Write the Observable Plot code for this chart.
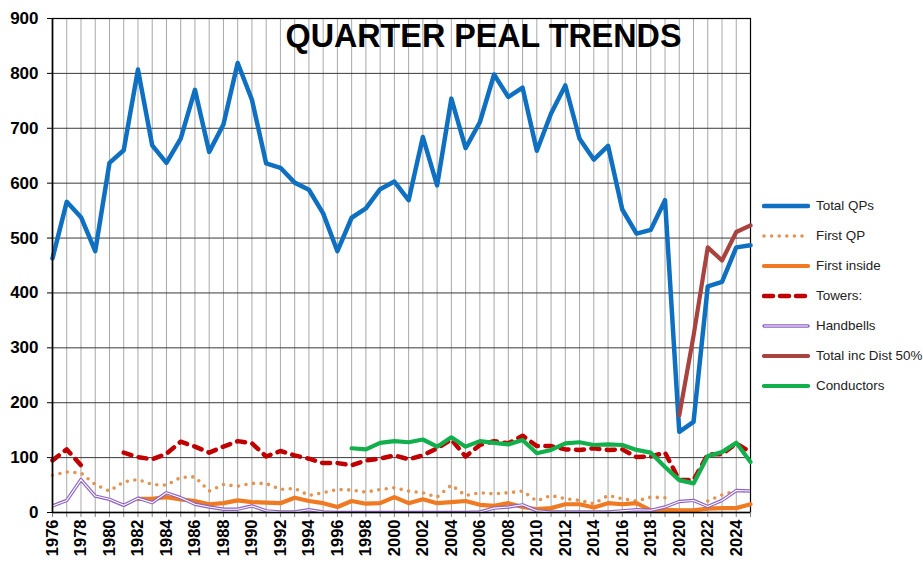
<!DOCTYPE html>
<html>
<head>
<meta charset="utf-8">
<script src="https://cdn.jsdelivr.net/npm/d3@7"></script>
<script src="https://cdn.jsdelivr.net/npm/@observablehq/plot@0.6"></script>
<style>
  html, body { margin: 0; padding: 0; background: white; }
  #wrap { position: relative; width: 923px; height: 563px; overflow: hidden; font-family: "Liberation Sans", Arial, sans-serif; }
  #title { position: absolute; left: 483.5px; top: 19.5px; transform: translateX(-50%); font-size: 32.3px; line-height: 32px; font-weight: bold; white-space: nowrap; color: black; }
  #legend { position: absolute; left: 762px; top: 191px; }
  .row { display: flex; align-items: center; height: 29.95px; font-size: 13.4px; color: #222; white-space: nowrap; }
  .row svg { margin-right: 6px; }
</style>
</head>
<body>
<div id="wrap">
  <div id="chart"></div>
  <div id="title"></div>
  <div id="legend"></div>
</div>
<script>
const titleText = "QUARTER PEAL TRENDS";
const years = d3.range(1976, 2026);
const yTicks = [0, 100, 200, 300, 400, 500, 600, 700, 800, 900];

const totalQPs = [463,566,538,476,637,660,807,669,637,681,
                  770,657,707,819,752,636,628,601,588,545,
                  476,537,554,589,603,569,684,596,754,664,
                  711,798,757,774,659,727,778,681,643,668,
                  552,508,515,569,147,165,412,420,483,487];
const firstQP = [68,74,72,51,39,56,60,51,50,64,
                 65,39,51,48,53,53,42,44,31,36,
                 42,41,37,42,45,39,36,28,50,31,
                 36,34,36,39,21,31,25,22,16,31,
                 25,21,28,27,null,null,21,32,40,39];
const firstInside = [null,null,null,null,null,null,25,25,28,24,
                     21,15,17,22,19,18,17,27,21,17,
                     10,21,16,17,28,17,24,17,19,21,
                     14,12,17,10,6,8,15,15,9,17,
                     15,17,4,5,4,4,7,8,8,15];
const towers = [95,115,86,null,null,109,101,97,107,129,
                120,109,120,130,126,102,112,104,98,90,
                90,86,95,98,104,97,104,117,133,102,
                123,130,126,140,121,121,115,114,117,114,
                115,101,102,109,59,59,106,106,126,110];
const handbells = [12,22,60,30,24,13,26,18,36,27,
                   15,10,6,6,12,3,1,1,5,1,
                   0,0,0,0,0,0,0,0,0,0,
                   1,8,10,14,3,1,1,1,1,1,
                   3,5,4,10,20,22,11,22,40,39];
const totalIncDist = [null,null,null,null,null,null,null,null,null,null,
                      null,null,null,null,null,null,null,null,null,null,
                      null,null,null,null,null,null,null,null,null,null,
                      null,null,null,null,null,null,null,null,null,null,
                      null,null,null,null,177,322,483,459,511,523];
const conductors = [null,null,null,null,null,null,null,null,null,null,
                    null,null,null,null,null,null,null,null,null,null,
                    null,117,115,127,130,128,133,120,137,120,
                    130,127,124,132,108,114,126,128,123,124,
                    123,114,109,83,59,53,103,110,127,92];

const seriesNames = ["Total QPs","First QP","First inside","Towers:","Handbells","Total inc Dist 50%","Conductors"];

const num = v => (v == null ? NaN : v);
const rows = years.map((yr, i) => ({
  year: yr,
  total: num(totalQPs[i]),
  firstQP: num(firstQP[i]),
  firstInside: num(firstInside[i]),
  towers: num(towers[i]),
  handbells: num(handbells[i]),
  dist: num(totalIncDist[i]),
  conductors: num(conductors[i])
}));

const C = {
  total: "#0f6fc0",
  firstQP: "#e39453",
  firstInside: "#f07a22",
  towers: "#c00000",
  hbOuter: "#8f63c2",
  hbInner: "#ffffff",
  dist: "#a8433f",
  conductors: "#12b04c"
};

const chart = Plot.plot({
  width: 923,
  height: 563,
  marginLeft: 52,
  marginRight: 173,
  marginTop: 18,
  marginBottom: 51,
  style: { fontFamily: "Liberation Sans, Arial, sans-serif", background: "white", color: "black" },
  x: { domain: [1976, 2025], label: null },
  y: { domain: [0, 900], label: null },
  marks: [
    Plot.gridX(years, { stroke: "#a8a8a8", strokeOpacity: 1, strokeWidth: 1 }),
    Plot.gridY(yTicks, { stroke: "#3a3a3a", strokeOpacity: 1, strokeWidth: 1 }),
    Plot.frame({ stroke: "black", strokeWidth: 1.2 }),
    Plot.axisY({ ticks: yTicks, tickSize: 5, tickPadding: 9, fontSize: 17, fontWeight: "bold", tickFormat: d => String(d), stroke: "black" }),
    Plot.axisX({ ticks: years, tickSize: 5, tickPadding: 2, tickRotate: -90, fontSize: 16.5, fontWeight: "bold",
                 tickFormat: d => (d % 2 === 0 ? String(d) : ""), stroke: "#808080" }),
    Plot.line(rows, { x: "year", y: "total", stroke: C.total, strokeWidth: 4.5 }),
    Plot.line(rows, { x: "year", y: "firstQP", stroke: C.firstQP, strokeWidth: 3.6, strokeDasharray: "0,7.6", strokeLinecap: "round" }),
    Plot.line(rows, { x: "year", y: "firstInside", stroke: C.firstInside, strokeWidth: 4.2 }),
    Plot.line(rows, { x: "year", y: "towers", stroke: C.towers, strokeWidth: 4.5, strokeDasharray: "8,7.5", strokeLinecap: "round" }),
    Plot.line(rows, { x: "year", y: "handbells", stroke: C.hbOuter, strokeWidth: 3.4, clip: true }),
    Plot.line(rows, { x: "year", y: "handbells", stroke: C.hbInner, strokeWidth: 1.1, clip: true }),
    Plot.ruleX([1976], { stroke: "black", strokeWidth: 1.6 }),
    Plot.ruleY([0], { stroke: "black", strokeWidth: 1.6 }),
    Plot.line(rows, { x: "year", y: "dist", stroke: C.dist, strokeWidth: 4.2 }),
    Plot.line(rows, { x: "year", y: "conductors", stroke: C.conductors, strokeWidth: 4.2 })
  ]
});
document.getElementById("chart").appendChild(chart);
document.getElementById("title").textContent = titleText;

// Legend
const swatches = [
  { stroke: C.total, width: 4.5 },
  { stroke: C.firstQP, width: 3.6, dash: "0,7.6" },
  { stroke: C.firstInside, width: 4.2 },
  { stroke: C.towers, width: 4.5, dash: "9,7" },
  { stroke: C.hbOuter, width: 3.4, inner: C.hbInner },
  { stroke: C.dist, width: 4.2 },
  { stroke: C.conductors, width: 4.2 }
];
const legend = d3.select("#legend");
seriesNames.forEach((name, i) => {
  const s = swatches[i];
  const row = legend.append("div").attr("class", "row");
  const svg = row.append("svg").attr("width", 48).attr("height", 10);
  svg.append("line").attr("x1", 2).attr("x2", 46).attr("y1", 5).attr("y2", 5)
    .attr("stroke", s.stroke).attr("stroke-width", s.width).attr("stroke-linecap", "round")
    .attr("stroke-dasharray", s.dash || null);
  if (s.inner) {
    svg.append("line").attr("x1", 2).attr("x2", 46).attr("y1", 5).attr("y2", 5)
      .attr("stroke", s.inner).attr("stroke-width", 1.1);
  }
  row.append("span").text(name);
});
</script>
</body>
</html>
